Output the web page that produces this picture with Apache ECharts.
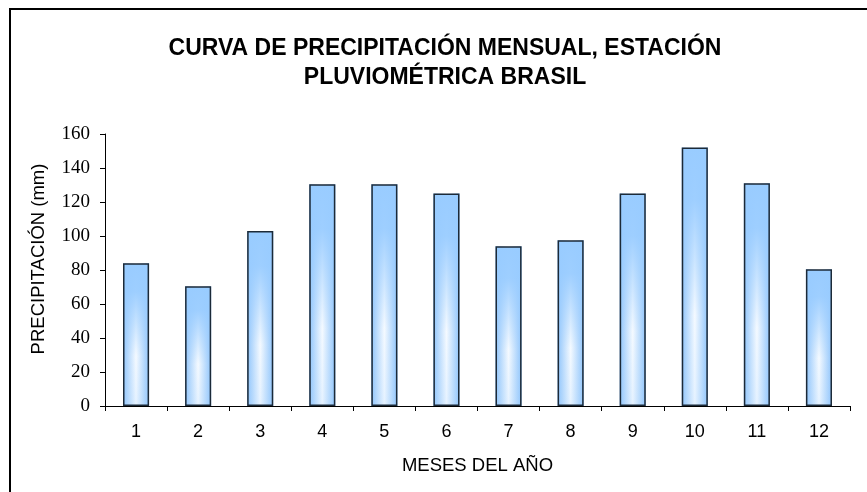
<!DOCTYPE html>
<html>
<head>
<meta charset="utf-8">
<script src="https://cdn.jsdelivr.net/npm/echarts@6/dist/echarts.min.js"></script>
<style>
html,body{margin:0;padding:0;background:#fff;}
#c{width:867px;height:492px;}
</style>
</head>
<body>
<div id="c"></div>
<script>
const months = ['1','2','3','4','5','6','7','8','9','10','11','12'];
const precipitation = [84, 70.5, 103, 130.5, 130.5, 125, 94, 97.5, 125, 152, 131, 80.5];
const yTicks = [0, 20, 40, 60, 80, 100, 120, 140, 160];
const titleText = 'CURVA DE PRECIPITACIÓN MENSUAL, ESTACIÓN\nPLUVIOMÉTRICA BRASIL';
const xName = 'MESES DEL AÑO';
const yName = 'PRECIPITACIÓN (mm)';

const chart = echarts.init(document.getElementById('c'), null, {renderer:'canvas'});
chart.setOption({
  backgroundColor: '#fff',
  animation: false,
  graphic: [{
    type: 'rect', silent: true, z: -1,
    shape: {x: 10, y: 9, width: 900, height: 520},
    style: {fill: 'none', stroke: '#000', lineWidth: 2}
  }],
  title: {
    text: titleText,
    left: 440, top: 29, textAlign: 'center',
    textStyle: {fontFamily: 'Liberation Sans, Arial, sans-serif', fontWeight: 'bold', fontSize: 23, lineHeight: 29, color: '#000'}
  },
  grid: {left: 105, right: 17, top: 134, bottom: 86},
  xAxis: {
    type: 'category', data: months,
    name: xName, nameLocation: 'middle', nameGap: 50,
    nameTextStyle: {fontFamily: 'Liberation Sans, Arial, sans-serif', fontSize: 18.5, color: '#000'},
    axisLine: {lineStyle: {color: '#000', width: 1}},
    axisTick: {show: true, length: 5, lineStyle: {color: '#000'}},
    axisLabel: {fontFamily: 'Liberation Sans, Arial, sans-serif', fontSize: 18, color: '#000', margin: 17},
    splitLine: {show: false}
  },
  yAxis: {
    type: 'value', min: yTicks[0], max: yTicks[yTicks.length-1], interval: 20,
    name: yName, nameLocation: 'middle', nameGap: 57, nameRotate: 90,
    nameTextStyle: {fontFamily: 'Liberation Sans, Arial, sans-serif', fontSize: 18.5, color: '#000', padding: [0, 0, 0, 22]},
    axisLine: {show: true, lineStyle: {color: '#000', width: 1}},
    axisTick: {show: true, length: 5, lineStyle: {color: '#000'}},
    axisLabel: {fontFamily: 'Liberation Serif, Times New Roman, serif', fontSize: 19, color: '#000', margin: 15},
    splitLine: {show: false}
  },
  series: [{
    type: 'bar', data: precipitation, barCategoryGap: '58%',
    itemStyle: {
      color: new echarts.graphic.LinearGradient(0, 0, 1, 0, [
        {offset: 0, color: '#8fc4fb'},
        {offset: 0.5, color: '#ffffff'},
        {offset: 1, color: '#8fc4fb'}
      ])
    }
  }, {
    type: 'bar', data: precipitation, barCategoryGap: '58%', barGap: '-100%',
    itemStyle: {
      color: new echarts.graphic.LinearGradient(0, 0, 0, 1, [
        {offset: 0, color: 'rgba(153,204,255,1)'},
        {offset: 0.2, color: 'rgba(153,204,255,0.95)'},
        {offset: 0.65, color: 'rgba(153,204,255,0.1)'},
        {offset: 1, color: 'rgba(153,204,255,0.25)'}
      ]),
      borderColor: '#1c2a38', borderWidth: 1.5
    }
  }]
});
</script>
</body>
</html>
